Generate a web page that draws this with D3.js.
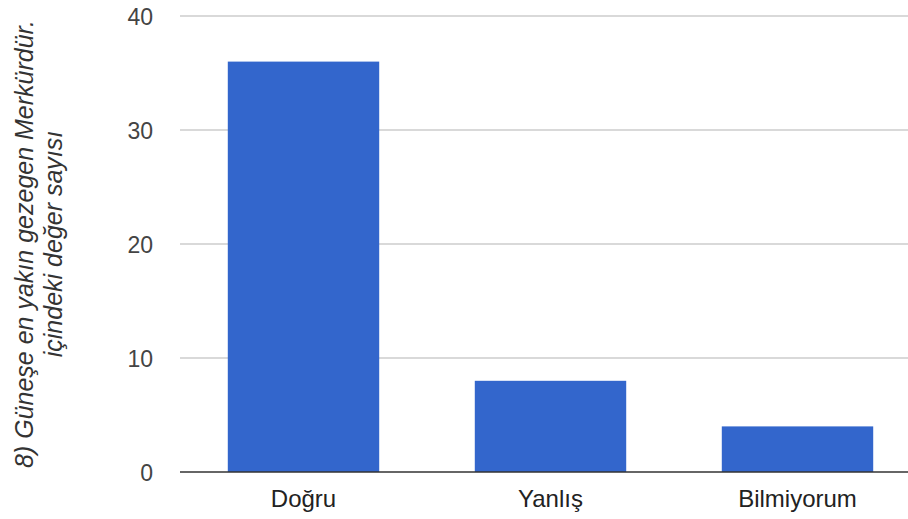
<!DOCTYPE html>
<html><head><meta charset="utf-8">
<script src="https://cdn.jsdelivr.net/npm/d3@7"></script>
<style>body{margin:0;background:#fff}svg{display:block}</style>
</head><body>
<svg id="c" width="908" height="519"></svg>
<script>
const categories = ["Doğru", "Yanlış", "Bilmiyorum"];
const values = [36, 8, 4];
const yTicks = [0, 10, 20, 30, 40];
const titleLines = ["8) Güneşe en yakın gezegen Merkürdür.", "içindeki değer sayısı"];

(function () {
const svg = d3.select("#c");
const pLeft = 180, pRight = 921, pTop = 16, pBottom = 472;
const font = "'Liberation Sans', Arial, sans-serif";

const x = d3.scaleBand().domain(categories).range([pLeft, pRight]).paddingInner(0.387).paddingOuter(0.1935);
const y = d3.scaleLinear().domain([0, 40]).range([pBottom, pTop]);

svg.append("g").selectAll("line").data(yTicks.filter(d => d !== 0)).join("line")
  .attr("x1", pLeft).attr("x2", 908).attr("y1", d => y(d)).attr("y2", d => y(d))
  .attr("stroke", "#cccccc").attr("stroke-width", 1.5);

svg.append("g").selectAll("rect").data(values).join("rect")
  .attr("x", (d, i) => x(categories[i])).attr("width", x.bandwidth())
  .attr("y", d => y(d)).attr("height", d => y(0) - y(d))
  .attr("fill", "#3366cc");

svg.append("line").attr("x1", pLeft).attr("x2", 908).attr("y1", y(0)).attr("y2", y(0))
  .attr("stroke", "#333333").attr("stroke-width", 1.5);

const yAxis = d3.axisLeft(y).tickValues(yTicks).tickSize(0).tickPadding(0);
const ya = svg.append("g").attr("transform", "translate(153,0)").call(yAxis);
ya.select(".domain").remove();
ya.selectAll("text").attr("font-family", font).attr("font-size", 23).attr("fill", "#444").attr("dy", "0.35em");

const xAxis = d3.axisBottom(x).tickSize(0).tickPadding(0);
const xa = svg.append("g").attr("transform", `translate(0,${pBottom})`).call(xAxis);
xa.select(".domain").remove();
xa.selectAll("text").attr("font-family", font).attr("font-size", 24).attr("fill", "#222").attr("dy", null).attr("y", 35);

const t = svg.append("text").attr("transform", `translate(0,${(pTop + pBottom) / 2}) rotate(-90)`)
  .attr("text-anchor", "middle").attr("font-family", font).attr("font-style", "italic")
  .attr("font-size", 25).attr("fill", "#333");
titleLines.forEach((l, i) => t.append("tspan").attr("x", 0).attr("y", 33 + i * 29).text(l));
})();
</script>
</body></html>
